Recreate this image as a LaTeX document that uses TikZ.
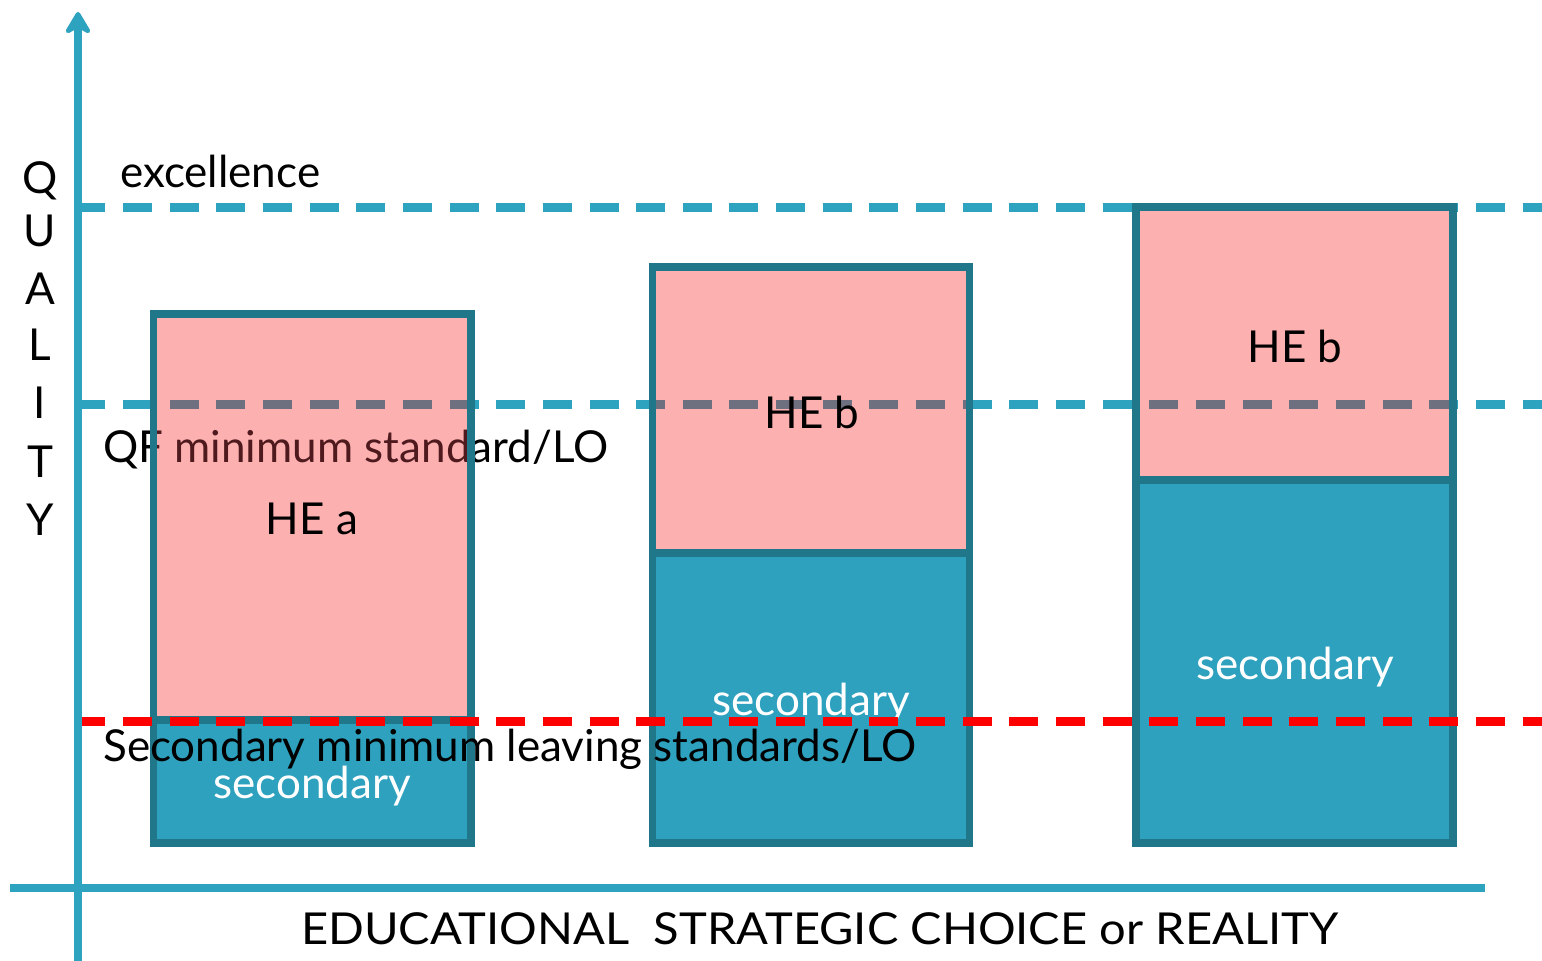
\documentclass[tikz,border=0pt]{standalone}
\usepackage{fontspec}
\setmainfont{Lato}
\usetikzlibrary{arrows.meta}
\definecolor{axisteal}{HTML}{2EA3C0}
\definecolor{boxedge}{HTML}{20778A}
\definecolor{boxteal}{HTML}{2EA1BE}
\definecolor{boxpink}{HTML}{FDB0B0}
\definecolor{dashgrey}{HTML}{6E7080}
\definecolor{hidetext}{HTML}{4E1A1E}
\tikzset{
  lbl/.style={inner sep=0pt, font=\fontsize{44}{50}\selectfont, text=black},
  wlbl/.style={lbl, text=white},
  levelline/.style={line width=9pt, dash pattern=on 29pt off 17.65pt},
  pinkpart/.style={fill=boxpink},
  tealpart/.style={fill=boxteal},
  boxborder/.style={draw=boxedge, line width=7.5pt},
  axisline/.style={draw=axisteal, line width=8pt},
}
\begin{document}
\begin{tikzpicture}[x=1pt,y=-1pt]
\useasboundingbox (0,0) rectangle (1542,961);
\clip (0,0) rectangle (1542,961);
\fill[white] (0,0) rectangle (1542,961);
% level lines
\coordinate (exA) at (76.35,207); \coordinate (exB) at (1580,207);
\coordinate (qfA) at (76.35,404); \coordinate (qfB) at (1580,404);
\coordinate (smA) at (76.35,721); \coordinate (smB) at (1580,721);
\draw[levelline, axisteal] (exA) -- (exB);
\draw[levelline, axisteal] (qfA) -- (qfB);
% QF label (partly behind box 1)
\node[lbl, anchor=base west] (qftext) at (103,462) {QF minimum standard/LO};
% box fills
\path[pinkpart] (153.5,314) rectangle (471,720);
\path[tealpart] (153.5,720) rectangle (471,843);
\path[pinkpart] (652.5,267) rectangle (969.5,553);
\path[tealpart] (652.5,553) rectangle (969.5,843);
\path[pinkpart] (1136,207) rectangle (1453,480);
\path[tealpart] (1136,480) rectangle (1453,843);
% what shows through the pink parts
\begin{scope}
  \clip (153.5,314) rectangle (471,720) (652.5,267) rectangle (969.5,553) (1136,207) rectangle (1453,480);
  \draw[levelline, dashgrey] (qfA) -- (qfB);
  \node[lbl, anchor=base west, text=hidetext] (qfhid) at (103,462) {QF minimum standard/LO};
\end{scope}
% box borders
\draw[boxborder] (153.5,314) rectangle (471,720);
\draw[boxborder] (153.5,720) rectangle (471,843);
\draw[boxborder] (652.5,267) rectangle (969.5,553);
\draw[boxborder] (652.5,553) rectangle (969.5,843);
\draw[boxborder] (1136,207) rectangle (1453,480);
\draw[boxborder] (1136,480) rectangle (1453,843);
% box labels
\node[lbl, anchor=base] (hea) at (312,534) {HE a};
\node[lbl, anchor=base] (hebm) at (812,428) {HE b};
\node[lbl, anchor=base] (hebr) at (1295,362) {HE b};
\node[wlbl, anchor=base] (seca) at (312,798) {secondary};
\node[wlbl, anchor=base] (secb) at (811,715) {secondary};
\node[wlbl, anchor=base] (secc) at (1295,679) {secondary};
% secondary minimum line
\draw[levelline, red] (smA) -- (smB);
\node[lbl, anchor=base west] (smtext) at (103,761) {Secondary minimum leaving standards/LO};
\node[lbl, anchor=base west] (extext) at (120,187) {excellence};
% QUALITY
\node[lbl, anchor=base] (q1) at (40,193) {Q};
\node[lbl, anchor=base] (q2) at (40,246) {U};
\node[lbl, anchor=base] (q3) at (40,304) {A};
\node[lbl, anchor=base] (q4) at (40,360) {L};
\node[lbl, anchor=base] (q5) at (40,418) {I};
\node[lbl, anchor=base] (q6) at (40,477) {T};
\node[lbl, anchor=base] (q7) at (40,535) {Y};
% x label
\node[lbl, anchor=base west] (xtext) at (301,944) {\scalebox{1.07}[1]{EDUCATIONAL\ \ STRATEGIC CHOICE or REALITY}};
% axes
\coordinate (yB) at (78,975); \coordinate (yT) at (78,12);
\coordinate (xL) at (10,888); \coordinate (xR) at (1485,888);
\draw[axisline, -{Stealth[length=27pt,width=32pt,inset=9pt,round]}] (yB) -- (yT);
\draw[axisline] (xL) -- (xR);
\end{tikzpicture}
\end{document}
